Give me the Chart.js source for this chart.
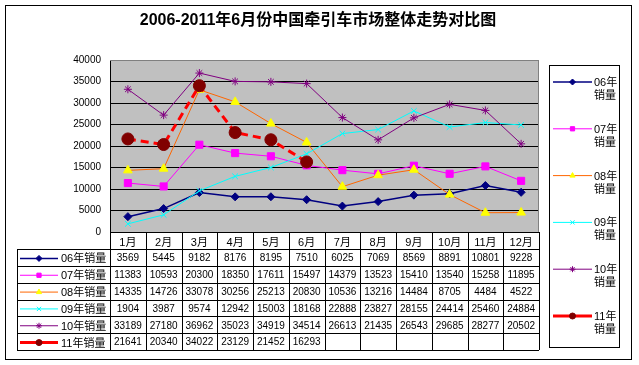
<!DOCTYPE html>
<html>
<head>
<meta charset="utf-8">
<script src="https://cdn.jsdelivr.net/npm/chart.js@4/dist/chart.umd.min.js"></script>
<style>
  html, body { margin: 0; padding: 0; background: #fff; }
  canvas { display: block; }
</style>
</head>
<body>
<canvas id="chart" width="639" height="365"></canvas>
<script>
const months = ['1月', '2月', '3月', '4月', '5月', '6月', '7月', '8月', '9月', '10月', '11月', '12月'];
const seriesNames = ['06年销量', '07年销量', '08年销量', '09年销量', '10年销量', '11年销量'];
const sales06 = [3569, 5445, 9182, 8176, 8195, 7510, 6025, 7069, 8569, 8891, 10801, 9228];
const sales07 = [11383, 10593, 20300, 18350, 17611, 15497, 14379, 13523, 15410, 13540, 15258, 11895];
const sales08 = [14335, 14726, 33078, 30256, 25213, 20830, 10536, 13216, 14484, 8705, 4484, 4522];
const sales09 = [1904, 3987, 9574, 12942, 15003, 18168, 22888, 23827, 28155, 24414, 25460, 24884];
const sales10 = [33189, 27180, 36962, 35023, 34919, 34514, 26613, 21435, 26543, 29685, 28277, 20502];
const sales11 = [21641, 20340, 34022, 23129, 21452, 16293];
const yTicks = [0, 5000, 10000, 15000, 20000, 25000, 30000, 35000, 40000];
const titleText = '2006-2011年6月份中国牵引车市场整体走势对比图';

const FONT = "'Liberation Sans', 'Noto Sans CJK SC', sans-serif";

// marker/line styles per series
const styles = [
  { line: '#000080', fill: '#000080', point: 'rectRot', radius: 4, width: 1.5 },
  { line: '#FF00FF', fill: '#FF00FF', point: 'rect', radius: 5, width: 1 },
  { line: '#FF6600', fill: '#FFFF00', point: 'triangle', radius: 5, width: 1 },
  { line: '#00FFFF', fill: '#00FFFF', point: 'crossRot', radius: 4, width: 1 },
  { line: '#800080', fill: '#800080', point: 'star', radius: 4, width: 1 },
  { line: '#FF0000', fill: '#800000', point: 'circle', radius: 6, width: 3, dash: [8, 5] }
];
const allSeries = [sales06, sales07, sales08, sales09, sales10, sales11];

const datasets = allSeries.map((data, i) => ({
  label: seriesNames[i],
  data: data,
  borderColor: styles[i].line,
  borderWidth: styles[i].width,
  borderDash: styles[i].dash || [],
  backgroundColor: styles[i].fill,
  pointStyle: styles[i].point,
  pointRadius: styles[i].radius,
  pointBackgroundColor: styles[i].fill,
  pointBorderColor: styles[i].fill,
  pointBorderWidth: 1,
  tension: 0,
  order: allSeries.length - 1 - i
}));

// legend swatches use smaller markers than the plot
function drawMarker(ctx, i, x, y) {
  const s = styles[i];
  ctx.save();
  ctx.setLineDash([]);
  ctx.fillStyle = s.fill;
  ctx.strokeStyle = s.fill;
  ctx.lineWidth = 1;
  if (Chart.helpers && Chart.helpers.drawPoint) {
    Chart.helpers.drawPoint(ctx, { pointStyle: s.point, radius: 3, rotation: 0, borderWidth: 1 }, x, y);
  } else {
    ctx.fillRect(x - 3, y - 3, 6, 6);
  }
  ctx.restore();
}

function drawSample(ctx, i, x1, x2, y) {
  const s = styles[i];
  ctx.save();
  ctx.strokeStyle = s.line;
  ctx.lineWidth = s.width;
  ctx.beginPath();
  ctx.moveTo(x1, y);
  ctx.lineTo(x2, y);
  ctx.stroke();
  ctx.restore();
  drawMarker(ctx, i, (x1 + x2) / 2, y);
}

const frame = {
  id: 'frame',
  beforeDraw(chart) {
    const { ctx, chartArea: a } = chart;
    ctx.save();
    ctx.fillStyle = '#fff';
    ctx.fillRect(0, 0, chart.width, chart.height);
    ctx.fillStyle = '#C0C0C0';
    ctx.fillRect(a.left, a.top, a.right - a.left, a.bottom - a.top);
    ctx.restore();
  },
  afterDraw(chart) {
    const { ctx, chartArea: a } = chart;
    const xs = chart.scales.x;
    const n = months.length;
    const half = (xs.right - xs.left) / n / 2;
    const headBottom = a.bottom + 17;
    const tableBottom = 350;
    const rowH = (tableBottom - headBottom) / seriesNames.length;
    const tableLeft = 17;

    ctx.save();
    // plot border top/right
    ctx.strokeStyle = '#808080';
    ctx.lineWidth = 1;
    ctx.beginPath();
    ctx.moveTo(a.left, a.top + 0.5);
    ctx.lineTo(a.right - 0.5, a.top + 0.5);
    ctx.lineTo(a.right - 0.5, a.bottom);
    ctx.stroke();

    // table grid
    ctx.strokeStyle = '#000';
    ctx.beginPath();
    for (let k = 0; k <= n; k++) {
      const x = Math.round(k < n ? xs.getPixelForTick(k) - half : xs.getPixelForTick(n - 1) + half) + 0.5;
      ctx.moveTo(x, a.bottom);
      ctx.lineTo(x, tableBottom);
    }
    for (let r = 0; r <= seriesNames.length; r++) {
      const y = Math.round(headBottom + r * rowH) + 0.5;
      ctx.moveTo(tableLeft, y);
      ctx.lineTo(a.right, y);
    }
    ctx.moveTo(tableLeft + 0.5, headBottom);
    ctx.lineTo(tableLeft + 0.5, tableBottom + 0.5);
    ctx.stroke();

    // table values
    ctx.fillStyle = '#000';
    ctx.textAlign = 'center';
    ctx.textBaseline = 'middle';
    ctx.font = '10px ' + FONT;
    allSeries.forEach((data, r) => {
      const yc = headBottom + (r + 0.5) * rowH + 1;
      data.forEach((v, k) => {
        ctx.fillText(String(v), xs.getPixelForTick(k), yc);
      });
    });

    // row labels
    ctx.font = '11px ' + FONT;
    ctx.textAlign = 'left';
    seriesNames.forEach((name, r) => {
      const yc = headBottom + (r + 0.5) * rowH + 1;
      drawSample(ctx, r, 20, 58, yc);
      ctx.fillStyle = '#000';
      ctx.fillText(name, 61, yc + 1);
    });

    // right legend
    ctx.strokeStyle = '#000';
    ctx.lineWidth = 1;
    ctx.strokeRect(549.5, 65.5, 70, 282);
    seriesNames.forEach((name, r) => {
      const yc = 82 + r * 46.8;
      drawSample(ctx, r, 553, 592, yc);
      ctx.fillStyle = '#000';
      ctx.textAlign = 'left';
      ctx.fillText(name.slice(0, 3), 594, yc + 1);
      ctx.fillText(name.slice(3), 594, yc + 14);
    });

    // title
    ctx.font = 'bold 16px ' + FONT;
    ctx.textAlign = 'center';
    ctx.fillText(titleText, 318, 21);

    // outer border
    ctx.strokeStyle = '#000';
    ctx.strokeRect(5.5, 5.5, 626, 354);
    ctx.restore();
  }
};

new Chart(document.getElementById('chart'), {
  type: 'line',
  data: { labels: months, datasets: datasets },
  plugins: [frame],
  options: {
    responsive: false,
    animation: false,
    layout: { padding: { left: 0, top: 60, right: 100, bottom: 0 } },
    plugins: {
      legend: { display: false },
      title: { display: false },
      tooltip: { enabled: false }
    },
    scales: {
      x: {
        type: 'category',
        offset: true,
        grid: { display: false, drawTicks: false },
        border: { color: '#000' },
        ticks: { color: '#000', font: { size: 11, family: FONT }, padding: 4, maxRotation: 0, autoSkip: false },
        afterFit: s => { s.height = 133; }
      },
      y: {
        min: yTicks[0],
        max: yTicks[yTicks.length - 1],
        afterBuildTicks: s => { s.ticks = yTicks.map(v => ({ value: v })); },
        grid: { drawTicks: false, color: c => c.tick && c.tick.value === 40000 ? '#808080' : '#000' },
        border: { color: '#000' },
        ticks: { color: '#000', font: { size: 10, family: FONT }, padding: 9, callback: v => String(v) },
        afterFit: s => { s.width = 110; }
      }
    }
  }
});
</script>
</body>
</html>
